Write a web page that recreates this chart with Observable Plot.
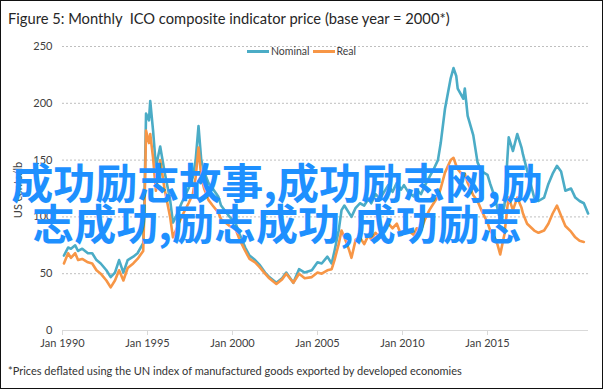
<!DOCTYPE html>
<html>
<head>
<meta charset="utf-8">
<script src="https://cdn.jsdelivr.net/npm/d3@7"></script>
<script src="https://cdn.jsdelivr.net/npm/@observablehq/plot@0.6"></script>
<style>
  html, body { margin: 0; padding: 0; background: #fff; }
  #frame { position: relative; width: 604px; height: 390px; overflow: hidden; font-family: Lato, "Open Sans", sans-serif; }
  #border { position: absolute; left: 0; top: 0; width: 601px; height: 387px; border: 1.5px solid #111; }
  #title { position: absolute; left: 8px; top: 9px; font-size: 14.7px; color: #262626; white-space: nowrap; }
  #chart { position: absolute; left: 0; top: 30px; }
  #ylabel { position: absolute; left: 17px; top: 190px; transform: translate(-50%, -50%) rotate(-90deg); font-size: 11px; color: #404040; white-space: nowrap; }
  #legend { position: absolute; top: 45px; left: 247px; font-size: 10.5px; color: #404040; display: flex; align-items: center; white-space: nowrap; }
  .sw { display: inline-block; width: 22px; height: 3px; margin-right: 2px; }
  #caption { position: absolute; left: 8px; top: 364px; font-size: 11px; color: #333; white-space: nowrap; }
  #wm { position: absolute; left: 0; width: 554px; top: 160px; text-align: center; font-family: "Noto Sans CJK SC", sans-serif; font-weight: bold; font-size: 42px; line-height: 41px; color: #1e90ff; white-space: nowrap; }
</style>
</head>
<body>
<div id="frame">
  <div id="border"></div>
  <div id="title">Figure 5: Monthly&nbsp; ICO composite indicator price (base year = 2000*)</div>
  <div id="chart"></div>
  <div id="ylabel">US cents/lb</div>
  <div id="legend"><span class="sw" style="background:#4bacc6"></span><span>Nominal</span><span class="sw" style="background:#f79646;margin-left:3px"></span><span>Real</span></div>
  <div id="caption">*Prices deflated using the UN index of manufactured goods exported by developed economies</div>
  <div id="wm">成功励志故事,成功励志网,励<br>志成功,励志成功,成功励志</div>
</div>
<script>
const dates = ["1990-02","1990-05","1990-07","1990-10","1990-12","1991-03","1991-07","1991-10","1992-01","1992-04","1992-08","1992-11","1993-02","1993-05","1993-08","1993-11","1994-03","1994-06","1994-10","1994-11","1994-12","1995-02","1995-03","1995-05","1995-07","1995-10","1996-01","1996-05","1996-07","1996-09","1997-01","1997-06","1997-09","1997-11","1998-01","1998-03","1998-05","1998-08","1998-11","1999-03","1999-05","1999-08","1999-11","2000-03","2000-06","2000-10","2001-01","2001-05","2001-08","2001-12","2002-03","2002-08","2002-12","2003-03","2003-08","2003-12","2004-04","2004-09","2005-01","2005-04","2005-08","2005-11","2006-01","2006-04","2006-06","2006-08","2006-11","2007-01","2007-04","2007-07","2007-10","2008-01","2008-03","2008-06","2008-09","2009-01","2009-03","2009-06","2009-09","2009-12","2010-02","2010-05","2010-09","2010-11","2011-02","2011-05","2011-08","2011-11","2012-02","2012-04","2012-07","2012-11","2013-01","2013-03","2013-04","2013-08","2013-09","2013-11","2014-03","2014-06","2014-09","2015-01","2015-03","2015-06","2015-08","2015-10","2016-01","2016-03","2016-04","2016-07","2016-10","2017-01","2017-02","2017-05","2017-10","2018-01","2018-05","2018-08","2018-11","2019-02","2019-05","2019-08","2019-12","2020-03","2020-06","2020-09","2020-12"];
const nominal = [66,73,72,75,70,72,68,68,62,59,53,47,51,62,51,62,65,68,77,123,191,185,202,176,144,162,140,115,95,100,112,125,135,150,180,150,140,130,125,118,110,105,100,95,85,73,66,62,58,51,47,42,46,51,42,54,51,53,60,59,65,59,70,88,106,110,104,100,108,112,110,116,112,120,116,124,128,122,130,124,128,122,118,124,120,128,135,142,150,165,195,222,231,224,213,204,213,189,172,148,140,137,129,118,108,97,110,150,170,158,173,161,155,141,117,114,117,129,138,145,140,123,125,117,114,112,103];
const real = [59,68,64,68,62,63,60,59,53,50,44,38,44,53,44,55,59,63,70,114,176,165,173,152,123,150,125,100,82,88,100,112,120,135,161,135,125,115,110,104,98,95,92,90,80,70,63,60,56,50,46,41,45,50,42,50,46,47,51,50,53,54,62,76,88,82,72,64,80,82,76,84,80,86,82,90,94,90,94,84,86,88,84,90,88,98,106,112,118,125,139,150,152,145,142,136,138,130,119,114,105,95,88,82,76,67,85,108,117,106,117,108,103,94,88,86,88,94,103,110,101,92,87,82,79,78,null];
const yTicks = [0, 50, 100, 150, 200, 250];
const xTickYears = [1990, 1995, 2000, 2005, 2010, 2015];

const parse = d3.utcParse("%Y-%m");
const data = dates.map((d, i) => ({date: parse(d), nominal: nominal[i], real: real[i]}));
const xTicks = xTickYears.map(y => new Date(Date.UTC(y, 0, 1)));

const chart = Plot.plot({
  width: 604,
  height: 330,
  marginLeft: 62,
  marginRight: 16,
  marginTop: 16,
  marginBottom: 30,
  style: {fontFamily: "Lato, 'Open Sans', sans-serif", fontSize: "11px", color: "#404040", background: "transparent"},
  x: {type: "utc", domain: [new Date(Date.UTC(1990, 0, 1)), new Date(Date.UTC(2020, 11, 10))]},
  y: {domain: [0, 250]},
  marks: [
    Plot.ruleY(yTicks.filter(v => v > 0), {stroke: "#bfbfbf", strokeDasharray: "2,2", strokeWidth: 1}),
    Plot.ruleY([0], {stroke: "#d9d9d9", strokeWidth: 1}),
    Plot.axisY({ticks: yTicks, tickSize: 0, tickPadding: 10, label: null}),
    Plot.axisX({ticks: xTicks, tickFormat: d => "Jan " + d.getUTCFullYear(), tickSize: 5, tickPadding: 4, stroke: "#d9d9d9", label: null}),
    Plot.lineY(data, {x: "date", y: "nominal", stroke: "#4bacc6", strokeWidth: 2.6}),
    Plot.lineY(data, {x: "date", y: "real", stroke: "#f79646", strokeWidth: 2.6})
  ]
});
document.getElementById("chart").appendChild(chart);
</script>
</body>
</html>
